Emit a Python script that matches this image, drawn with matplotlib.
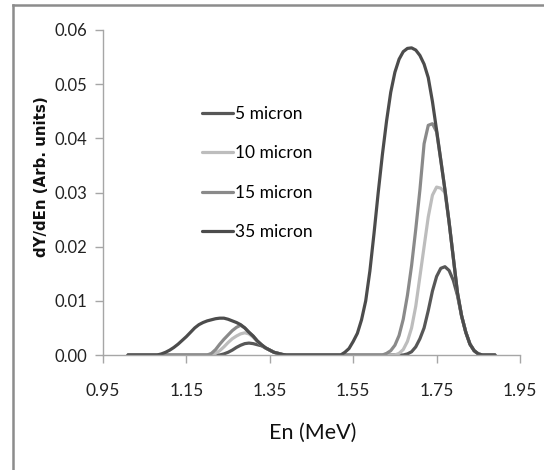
import matplotlib
matplotlib.use("Agg")
import matplotlib.pyplot as plt
from matplotlib.lines import Line2D

# energy grid (MeV): low-energy bump, high-energy peak, plus end points
energy = ([1.01] +
          [1.08, 1.09, 1.10, 1.11, 1.12, 1.13, 1.14, 1.15, 1.16, 1.17, 1.18, 1.19, 1.20, 1.21, 1.22, 1.23,
           1.24, 1.25, 1.26, 1.27, 1.28, 1.29, 1.30, 1.31, 1.32, 1.33, 1.34, 1.35, 1.36, 1.37, 1.38, 1.39] +
          [1.52, 1.53, 1.54, 1.55, 1.56, 1.57, 1.58, 1.59, 1.60, 1.61, 1.62, 1.63, 1.64, 1.65, 1.66, 1.67,
           1.68, 1.69, 1.70, 1.71, 1.72, 1.73, 1.74, 1.75, 1.76, 1.77, 1.78, 1.79, 1.80, 1.81, 1.82, 1.83,
           1.84, 1.85, 1.86] +
          [1.89])

y_5 = ([0] +
       [0] * 16 +
       [0.0002, 0.0005, 0.0009, 0.0014, 0.0018, 0.0021, 0.0022, 0.0021, 0.0019, 0.0017, 0.0013, 0.0009,
        0.0005, 0.0003, 0.0001, 0] +
       [0] * 16 +
       [0.0002, 0.0006, 0.0015, 0.0030, 0.0050, 0.0082, 0.0118, 0.0145, 0.0160, 0.0163, 0.0156, 0.0138,
        0.0110, 0.0072, 0.0042, 0.0020, 0.0008, 0.0002, 0] +
       [0])

y_10 = ([0] +
        [0] * 14 +
        [0.0003, 0.0008, 0.0015, 0.0023, 0.0030, 0.0035, 0.0039, 0.0041, 0.0039, 0.0033, 0.0025, 0.0019,
         0.0013, 0.0009, 0.0005, 0.0003, 0.0001, 0] +
        [0] * 14 +
        [0.0003, 0.0010, 0.0025, 0.0050, 0.0090, 0.0145, 0.0200, 0.0255, 0.0295, 0.0310, 0.0308, 0.0300,
         0.0245, 0.0180, 0.0115, 0.0072, 0.0042, 0.0020, 0.0008, 0.0002, 0] +
        [0])

y_15 = ([0] +
        [0] * 13 +
        [0.0003, 0.0010, 0.0020, 0.0029, 0.0037, 0.0045, 0.0051, 0.0055, 0.0050, 0.0042, 0.0035, 0.0026,
         0.0019, 0.0013, 0.0009, 0.0005, 0.0003, 0.0001, 0] +
        [0] * 11 +
        [0.0003, 0.0008, 0.0018, 0.0036, 0.0066, 0.0110, 0.0165, 0.0232, 0.0305, 0.0390, 0.0424, 0.0427,
         0.0412, 0.0360, 0.0305, 0.0245, 0.0180, 0.0115, 0.0072, 0.0042, 0.0020, 0.0008, 0.0002, 0] +
        [0])

y_35 = ([0] +
        [0, 0.0002, 0.0005, 0.0009, 0.0014, 0.0020, 0.0027, 0.0034, 0.0042, 0.0050, 0.0056, 0.0060, 0.0063,
         0.0065, 0.0067, 0.0068, 0.0068, 0.0066, 0.0063, 0.0060, 0.0056, 0.0050, 0.0042, 0.0035, 0.0026,
         0.0019, 0.0013, 0.0009, 0.0005, 0.0003, 0.0001, 0] +
        [0, 0.0005, 0.0012, 0.0025, 0.0040, 0.0065, 0.0100, 0.0155, 0.0225, 0.0300, 0.0370, 0.0432, 0.0485,
         0.0522, 0.0546, 0.0560, 0.0566, 0.0567, 0.0563, 0.0553, 0.0537, 0.0512, 0.0468, 0.0415, 0.0360,
         0.0305, 0.0245, 0.0180, 0.0115, 0.0072, 0.0042, 0.0020, 0.0008, 0.0002, 0] +
        [0])

series = [("5 micron", y_5, "#575757"),
          ("10 micron", y_10, "#bdbdbd"),
          ("15 micron", y_15, "#8a8a8a"),
          ("35 micron", y_35, "#4c4c4c")]

x_ticks = [0.95, 1.15, 1.35, 1.55, 1.75, 1.95]
y_ticks = [0.00, 0.01, 0.02, 0.03, 0.04, 0.05, 0.06]

narrow = ["Lato", "DejaVu Sans"]

fig = plt.figure(figsize=(5.44, 4.70), dpi=100)
ax = fig.add_axes([103 / 544, 1 - 355 / 470, 417 / 544, 325 / 470])

for label, ys, col in series:
    ax.plot(energy, ys, color=col, linewidth=2.3, label=label, solid_capstyle="round")

ax.set_xlim(0.95, 1.95)
ax.set_ylim(0, 0.06)
ax.set_xticks(x_ticks)
ax.set_xticklabels([f"{v:.2f}" for v in x_ticks], family=narrow, fontsize=12.5, color="#222222")
ax.set_yticks(y_ticks)
ax.set_yticklabels([f"{v:.2f}" for v in y_ticks], family=narrow, fontsize=12, color="#222222")
ax.tick_params(axis="both", direction="out", length=6, width=1, color="#a6a6a6")
ax.tick_params(axis="x", pad=14)
ax.tick_params(axis="y", pad=5)

for side in ["top", "right"]:
    ax.spines[side].set_visible(False)
for side in ["left", "bottom"]:
    ax.spines[side].set_color("#a6a6a6")
    ax.spines[side].set_linewidth(1)

fig.text(42 / 544, 1 - 177 / 470, "dY/dEn (Arb. units)", rotation=90, ha="center", va="center",
         fontsize=10.8, fontweight="bold", color="#111111")
fig.text(313 / 544, 1 - 433 / 470, "En (MeV)", ha="center", va="center",
         family=narrow, fontsize=15.5, color="#111111")

leg = ax.legend(loc="upper left", bbox_to_anchor=(0.2, 0.815), frameon=False,
                handlelength=1.8, handletextpad=0.1, labelspacing=1.35,
                prop={"family": narrow, "size": 12.5})

# outer gray frame (top and left edges visible)
fig.add_artist(Line2D([13 / 544, 1.0], [1 - 5 / 470, 1 - 5 / 470], transform=fig.transFigure,
                      color="#8c8c8c", linewidth=1.8))
fig.add_artist(Line2D([13 / 544, 13 / 544], [0.0, 1 - 5 / 470], transform=fig.transFigure,
                      color="#8c8c8c", linewidth=1.8))

fig.savefig("out.png", dpi=100)
